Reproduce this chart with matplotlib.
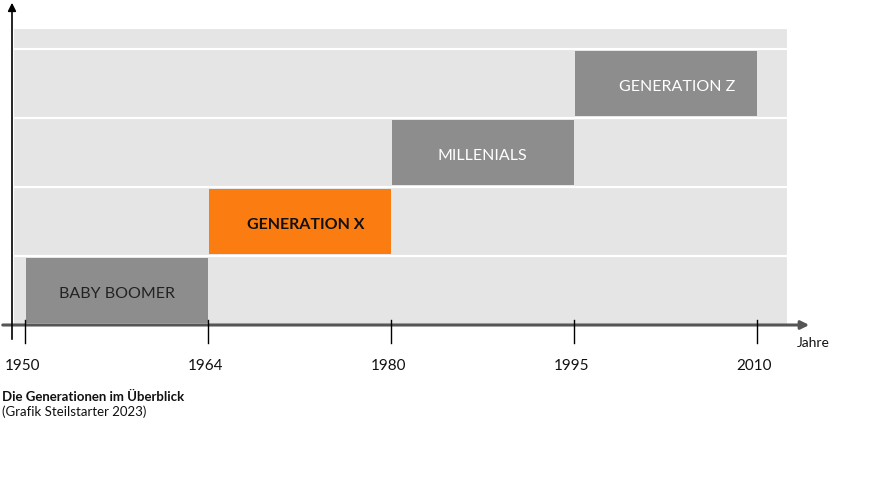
import matplotlib
matplotlib.use("Agg")
import matplotlib.pyplot as plt

# generations and their year ranges (x positions are tick indices)
years = ["1950", "1964", "1980", "1995", "2010"]
generations = ["BABY BOOMER", "GENERATION X", "MILLENIALS", "GENERATION Z"]
start_idx = [0, 1, 2, 3]
end_idx = [1, 2, 3, 4]
bar_colors = ["#8d8d8d", "#fb7c10", "#8d8d8d", "#8d8d8d"]
text_colors = ["#222222", "#111111", "white", "white"]
text_bold = [False, True, False, False]
label_shift = [0.0, 0.035, 0.0, 0.065]

plt.rcParams['font.family'] = ['Lato', 'DejaVu Sans']

fig = plt.figure(figsize=(8.8, 4.82), dpi=100)
ax = fig.add_axes([0, 0, 1, 1])
# 1 x unit = 183 px, 1 y unit = 69 px
ax.set_xlim(-25 / 183, 855 / 183)
ax.set_ylim(-157 / 69, 325 / 69)
ax.axis("off")

# grey background rows
bg_left = -12 / 183
bg_right = 763 / 183
for r in range(4):
    ax.barh(r + 0.5, bg_right - bg_left, height=1, left=bg_left,
            color="#e5e5e5", edgecolor="white", linewidth=1.5, zorder=1)
ax.barh(4.15, bg_right - bg_left, height=0.3, left=bg_left,
        color="#e5e5e5", edgecolor="white", linewidth=1.5, zorder=1)

# generation bars
for i, name in enumerate(generations):
    ax.barh(i + 0.5, end_idx[i] - start_idx[i] - 0.005, height=0.95,
            left=start_idx[i] + 0.003, color=bar_colors[i], zorder=2)
    cx = (start_idx[i] + end_idx[i]) / 2 + label_shift[i]
    ax.text(cx, i + 0.45, name, ha="center", va="center", fontsize=11.5,
            color=text_colors[i], fontweight="bold" if text_bold[i] else "normal",
            zorder=3)

# axes with arrows
ax.annotate("", xy=(787 / 183 + 0.0, 0), xytext=(-25 / 183, 0),
            arrowprops=dict(arrowstyle="-|>", color="#555555", lw=2.2,
                            mutation_scale=12), zorder=4)
ax.annotate("", xy=(-13 / 183, 325 / 69), xytext=(-13 / 183, -17 / 69),
            arrowprops=dict(arrowstyle="-|>", color="black", lw=1.2,
                            mutation_scale=12), zorder=4)

for i, y in enumerate(years):
    ax.plot([i, i], [0.07, -0.26], color="black", lw=1, zorder=5)
    ax.text(i - 0.015, -0.6, y, ha="center", va="center", fontsize=11, color="#111111")

ax.text(772 / 183, -0.26, "Jahre", ha="left", va="center", fontsize=10, color="#111111")

fig.text(0.002, 1 - 397 / 482, "Die Generationen im Überblick", ha="left", va="center",
         fontsize=9.5, fontweight="bold", color="#111111")
fig.text(0.002, 1 - 412 / 482, "(Grafik Steilstarter 2023)", ha="left", va="center",
         fontsize=9.5, color="#111111")

fig.savefig("out.png", dpi=100)
